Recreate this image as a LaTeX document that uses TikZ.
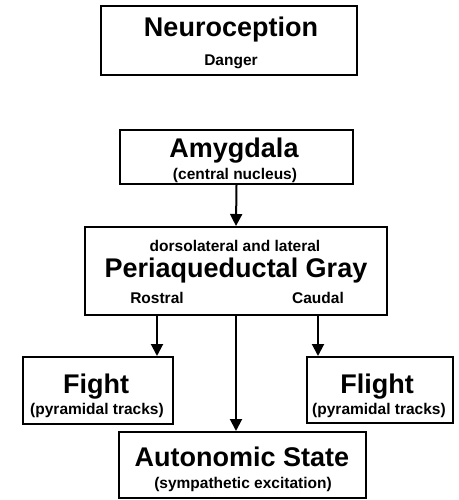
\documentclass[tikz,border=0pt]{standalone}
\usepackage{fontspec}
\setmainfont{Liberation Sans}
\usepackage{tikz}
\usetikzlibrary{arrows.meta}

\begin{document}
\begin{tikzpicture}[x=1pt,y=-1pt,
  box/.style={draw, line width=2pt, inner sep=0pt},
  title/.style={anchor=base, inner sep=0pt, font=\fontsize{27}{30}\selectfont\bfseries},
  sub/.style={anchor=base, inner sep=0pt, font=\fontsize{15.5}{18}\selectfont\bfseries},
  arrow/.style={line width=2pt, -{Triangle[length=12pt,width=12pt]}}]
\useasboundingbox (0,0) rectangle (458,500);
\node[box, minimum width=256pt, minimum height=69pt] (neuro) at (229,40.5) {};
\node[title] (neurotitle) at (231,37) {Neuroception};
\node[sub] (neurosub) at (231,66) {Danger};
\node[box, minimum width=233pt, minimum height=54pt] (amyg) at (236.5,157) {};
\node[title] (amygtitle) at (234,157) {Amygdala};
\node[sub] (amygsub) at (235,179) {(central nucleus)};
\node[box, minimum width=302pt, minimum height=88pt] (pag) at (236,271) {};
\node[sub] (pagtop) at (235,251) {dorsolateral and lateral};
\node[title] (pagtitle) at (236,277) {Periaqueductal Gray};
\node[sub] (rostral) at (157,303) {Rostral};
\node[sub] (caudal) at (318,303) {Caudal};
\node[box, minimum width=150pt, minimum height=67pt] (fight) at (98,390.5) {};
\node[title] (fighttitle) at (96,393) {Fight};
\node[sub] (fightsub) at (97,414) {(pyramidal tracks)};
\node[box, minimum width=146pt, minimum height=66pt] (flight) at (380,390) {};
\node[title] (flighttitle) at (377,393) {Flight};
\node[sub] (flightsub) at (379,414) {(pyramidal tracks)};
\node[box, minimum width=247pt, minimum height=66pt] (auto) at (242.5,465) {};
\node[title] (autotitle) at (242,466) {Autonomic State};
\node[sub] (autosub) at (243,488) {(sympathetic excitation)};
\draw[arrow] (amyg.south) -- (pag.north);
\draw[arrow] (rostral |- pag.south) -- (rostral |- fight.north);
\draw[arrow] (caudal |- pag.south) -- (caudal |- flight.north);
\draw[arrow] (pag.south) -- (pag.south |- auto.north);
\end{tikzpicture}
\end{document}
